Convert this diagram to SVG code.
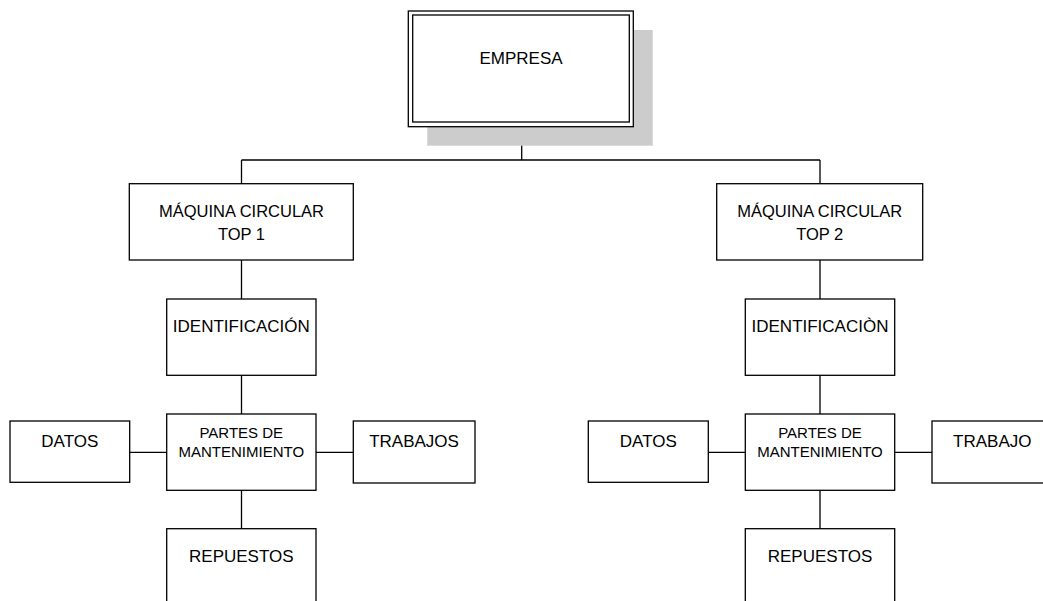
<svg xmlns="http://www.w3.org/2000/svg" width="1043" height="601" viewBox="0 0 1043 601">
  <style>
    .box { fill: #ffffff; stroke: #000000; stroke-width: 1.3; }
    .shadow { fill: #cccccc; stroke: none; }
    .link { fill: none; stroke: #000000; stroke-width: 1.3; }
    .lbl { font-family: "Liberation Sans", Arial, sans-serif; font-size: 17px; fill: #000000; text-anchor: middle; }
    .sm { font-size: 15px; }
    .md { font-size: 16.5px; }
  </style>
  <rect x="0" y="0" width="1043" height="601" fill="#ffffff"/>

  <!-- connectors -->
  <g id="connectors">
    <path class="link" d="M521.7 126.7 V160 M241.5 160 H820 M241.5 160 V183.7 M820 160 V183.7"/>
    <path class="link" d="M241.5 260 V299 M241.5 375.3 V414 M241.5 490.3 V528.7 M129.7 452.3 H166.7 M316 452.3 H353.3"/>
    <path class="link" d="M820 260 V299 M820 375.3 V414 M820 490.3 V528.7 M708.3 452.3 H745.3 M894.7 452.3 H932"/>
  </g>

  <!-- root -->
  <g id="empresa">
    <rect class="shadow" x="427.3" y="30" width="225.4" height="115.7"/>
    <rect class="box" x="408.3" y="11" width="225" height="115.7"/>
    <rect class="box" x="412.7" y="15" width="216.6" height="107"/>
    <text class="lbl" x="521" y="64">EMPRESA</text>
  </g>

  <!-- machine 1 branch -->
  <g id="maquina1">
    <rect class="box" x="129.3" y="183.7" width="224" height="76.3"/>
    <text class="lbl md" x="241.5" y="216.7">MÁQUINA CIRCULAR</text>
    <text class="lbl md" x="241.5" y="239.5">TOP 1</text>
  </g>
  <g id="identificacion1">
    <rect class="box" x="166.7" y="299" width="149.3" height="76.3"/>
    <text class="lbl" x="241.3" y="331.7">IDENTIFICACIÓN</text>
  </g>
  <g id="partes1">
    <rect class="box" x="166.7" y="414" width="149.3" height="76.3"/>
    <text class="lbl sm" x="241.3" y="437.7">PARTES DE</text>
    <text class="lbl sm" x="241.3" y="456.7">MANTENIMIENTO</text>
  </g>
  <g id="datos1">
    <rect class="box" x="10" y="421" width="119.7" height="61.3"/>
    <text class="lbl" x="69.8" y="446.7">DATOS</text>
  </g>
  <g id="trabajos1">
    <rect class="box" x="353.3" y="421" width="121.7" height="62"/>
    <text class="lbl" x="414" y="446.7">TRABAJOS</text>
  </g>
  <g id="repuestos1">
    <rect class="box" x="166.7" y="528.7" width="149.3" height="80"/>
    <text class="lbl" x="241.3" y="561.7">REPUESTOS</text>
  </g>

  <!-- machine 2 branch -->
  <g id="maquina2">
    <rect class="box" x="716.7" y="183.7" width="206" height="76.3"/>
    <text class="lbl md" x="819.7" y="216.7">MÁQUINA CIRCULAR</text>
    <text class="lbl md" x="819.7" y="239.5">TOP 2</text>
  </g>
  <g id="identificacion2">
    <rect class="box" x="745.3" y="299" width="149.4" height="76.3"/>
    <text class="lbl" x="820" y="331.7">IDENTIFICACIÒN</text>
  </g>
  <g id="partes2">
    <rect class="box" x="745.3" y="414" width="149.4" height="76.3"/>
    <text class="lbl sm" x="820" y="437.7">PARTES DE</text>
    <text class="lbl sm" x="820" y="456.7">MANTENIMIENTO</text>
  </g>
  <g id="datos2">
    <rect class="box" x="588.3" y="421" width="120" height="61.3"/>
    <text class="lbl" x="648.3" y="446.7">DATOS</text>
  </g>
  <g id="trabajo2">
    <rect class="box" x="932" y="421" width="120" height="62"/>
    <text class="lbl" x="992.3" y="446.7">TRABAJO</text>
  </g>
  <g id="repuestos2">
    <rect class="box" x="745.3" y="528.7" width="149.4" height="80"/>
    <text class="lbl" x="820" y="561.7">REPUESTOS</text>
  </g>
</svg>
